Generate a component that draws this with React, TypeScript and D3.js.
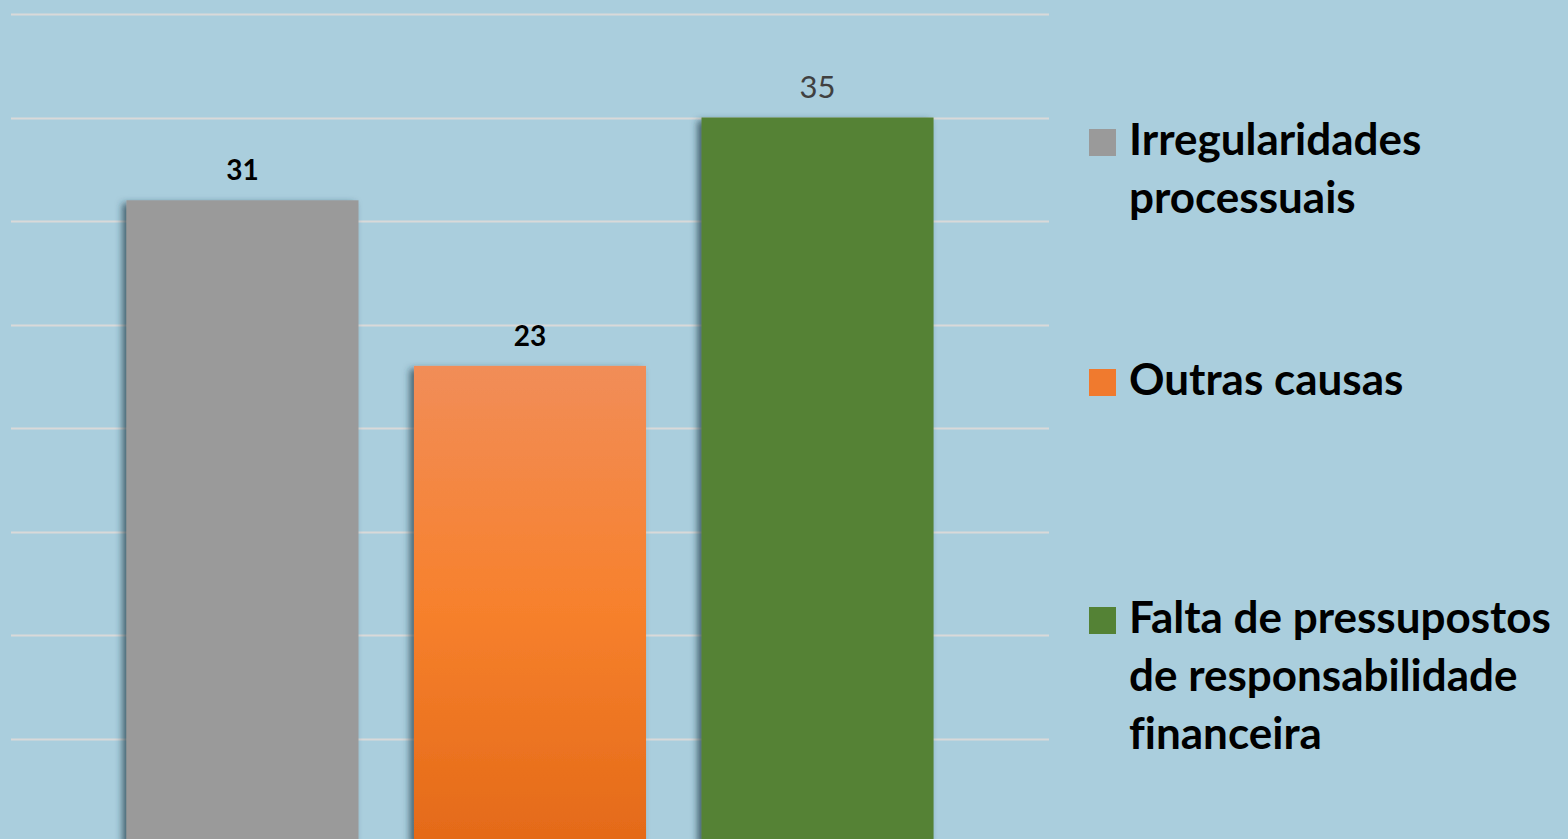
import React from "react";
import * as d3 from "d3";

const series = [
  "Irregularidades processuais",
  "Outras causas",
  "Falta de pressupostos de responsabilidade financeira",
];
const values = [31, 23, 35];
const colors = ["#9A9A9A", "url(#orangeGrad)", "#548235"];
const legendColors = ["#9A9A9A", "#F07A2E", "#548235"];
const legendLines = [
  ["Irregularidades", "processuais"],
  ["Outras causas"],
  ["Falta de pressupostos", "de responsabilidade", "financeira"],
];
const gridTicks = [5, 10, 15, 20, 25, 30, 35, 40];

const W = 1568;
const H = 839;

export default function App() {
  const y = d3.scaleLinear().domain([0, 40]).range([842, 14]);
  const x = d3
    .scaleBand<string>()
    .domain(series)
    .range([10, 1050])
    .paddingInner(0.193)
    .paddingOuter(0.405);

  const legendTop = [155, 395, 633];
  const lineH = 58;

  return (
    <svg
      width={W}
      height={H}
      style={{ position: "fixed", left: 0, top: 0 }}
      xmlns="http://www.w3.org/2000/svg"
    >
      <defs>
        <linearGradient id="orangeGrad" x1="0" y1="0" x2="0" y2="1">
          <stop offset="0" stopColor="#F18D58" />
          <stop offset="0.5" stopColor="#F7812D" />
          <stop offset="1" stopColor="#E46A18" />
        </linearGradient>
        <filter id="shadow" x="-10%" y="-10%" width="120%" height="120%">
          <feDropShadow dx={-4} dy={3} stdDeviation={3.5} floodColor="#243C4A" floodOpacity={0.75} />
        </filter>
      </defs>
      <rect x={0} y={0} width={W} height={H} fill="#AACEDD" />
      {gridTicks.map((t) => (
        <line
          key={t}
          x1={11}
          x2={1049}
          y1={Math.round(y(t)) + 0.5}
          y2={Math.round(y(t)) + 0.5}
          stroke="#D9D9D9"
          strokeWidth={2}
        />
      ))}
      {series.map((s, i) => (
        <rect
          key={s}
          x={x(s)}
          y={y(values[i])}
          width={x.bandwidth()}
          height={y(0) - y(values[i])}
          fill={colors[i]}
          filter="url(#shadow)"
        />
      ))}
      {series.map((s, i) => {
        const isLast = i === 2;
        return (
          <text
            key={s}
            x={(x(s) as number) + x.bandwidth() / 2}
            y={y(values[i]) - 20}
            textAnchor="middle"
            fontFamily="Lato, 'Open Sans', sans-serif"
            fontWeight={isLast ? 400 : 700}
            fontSize={isLast ? 31 : 28}
            fill={isLast ? "#404040" : "#000000"}
          >
            {values[i]}
          </text>
        );
      })}
      {legendLines.map((lines, i) => (
        <g key={i}>
          <rect
            x={1089}
            y={legendTop[i] - 26}
            width={27}
            height={27}
            fill={legendColors[i]}
          />
          {lines.map((ln, j) => (
            <text
              key={j}
              x={1129}
              y={legendTop[i] + j * lineH}
              fontFamily="Lato, 'Open Sans', sans-serif"
              fontWeight={700}
              fontSize={44}
              fill="#000000"
              style={{ fontVariantLigatures: "none" }}
            >
              {ln}
            </text>
          ))}
        </g>
      ))}
    </svg>
  );
}
